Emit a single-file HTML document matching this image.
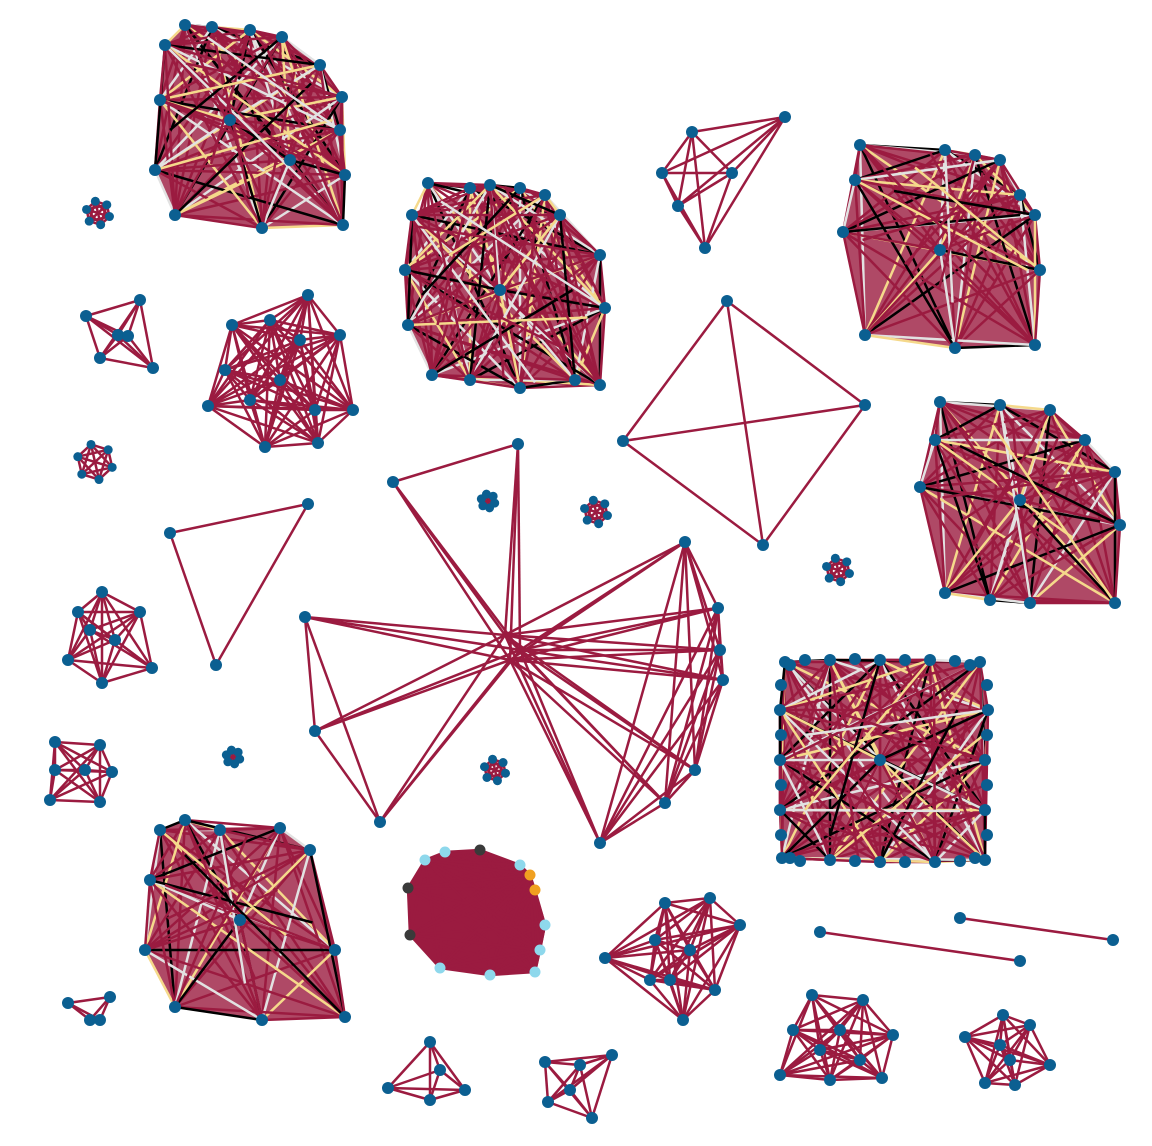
<!DOCTYPE html>
<html><head><meta charset="utf-8"><title>Network graph</title>
<style>html,body{margin:0;padding:0;background:#fff;}svg{display:block;}</style></head>
<body>
<svg id="chart" width="1152" height="1146" viewBox="0 0 1152 1146" xmlns="http://www.w3.org/2000/svg">
<g id="edges"></g>
<g id="nodes"></g>
</svg>
<script>
// Cluster node positions
const denseClusters = [
 [[185,25],[212,27],[250,30],[282,37],[320,65],[342,97],[340,130],[345,175],[343,225],[262,228],[175,215],[155,170],[160,100],[165,45],[230,120],[290,160]],
 [[428,183],[470,188],[520,188],[545,195],[600,255],[605,308],[600,385],[575,380],[520,388],[470,380],[432,375],[408,325],[405,270],[412,215],[490,185],[560,215],[500,290]],
 [[860,145],[945,150],[975,155],[1000,160],[1020,195],[1035,215],[1040,270],[1035,345],[955,348],[865,335],[843,232],[855,180],[940,250]],
 [[940,402],[1000,405],[1050,410],[1085,440],[1115,472],[1120,525],[1115,603],[1030,603],[990,600],[945,593],[920,487],[935,440],[1020,500]],
 [[785,662],[830,660],[880,660],[930,660],[980,662],[988,710],[985,760],[985,810],[985,860],[935,862],[880,862],[830,860],[782,858],[780,810],[780,760],[780,710],[880,760]],
 [[160,830],[185,820],[220,830],[280,828],[310,850],[335,950],[345,1017],[262,1020],[175,1007],[145,950],[150,880],[240,920]]
];
const squareRing = [[805,660],[855,659],[905,660],[955,661],[800,861],[855,861],[905,862],[960,861],[781,685],[781,735],[781,785],[781,835],[987,685],[987,735],[987,785],[987,835],[970,665],[790,665],[975,858],[790,858]];
const mediumClusters = [
 [[692,132],[785,117],[662,173],[732,173],[678,206],[705,248]],
 [[86,316],[140,300],[153,368],[100,358],[118,335],[128,336]],
 [[232,325],[270,320],[308,295],[340,335],[353,410],[318,443],[265,447],[208,406],[225,370],[300,340],[280,380],[250,400],[315,410]],
 [[727,301],[865,405],[763,545],[623,441]],
 [[170,533],[308,504],[216,665]],
 [[78,612],[102,592],[140,612],[152,668],[102,683],[68,660],[115,640],[90,630]],
 [[55,742],[100,745],[112,772],[100,802],[50,800],[55,770],[85,770]],
 [[605,958],[665,903],[710,898],[740,925],[715,990],[683,1020],[655,940],[690,950],[670,980],[650,980]],
 [[820,932],[1020,961]],
 [[960,918],[1113,940]],
 [[68,1003],[110,997],[100,1020],[90,1020]],
 [[430,1042],[388,1088],[430,1100],[465,1090],[440,1070]],
 [[545,1062],[612,1055],[592,1118],[548,1102],[580,1065],[570,1090]],
 [[812,995],[863,1000],[893,1035],[882,1078],[830,1080],[780,1075],[793,1030],[840,1030],[820,1050],[860,1060]],
 [[965,1037],[1003,1015],[1030,1025],[1050,1065],[1015,1085],[985,1083],[1000,1045],[1010,1060]]
];
const tinyCenters = [[98,213],[95,462],[488,501],[596,512],[838,570],[233,757],[495,770]];
const tinyRadii = [12,18,7,12,12,7,11];
const starHubs = [[505,635],[520,650],[510,660]];
const starOuter = [[393,482],[518,444],[685,542],[718,608],[723,680],[695,770],[665,803],[600,843],[380,822],[315,731],[305,617],[720,650]];
const blobNodes = [[445,852],[480,850],[520,865],[535,890],[545,925],[535,972],[490,975],[440,968],[410,935],[408,888],[425,860],[540,950],[530,875]];
const blobColors = ['#8ed8ec','#3a3a3a','#8ed8ec','#f0a020','#8ed8ec','#8ed8ec','#8ed8ec','#8ed8ec','#3a3a3a','#3a3a3a','#8ed8ec','#8ed8ec','#f0a020'];

const NS='http://www.w3.org/2000/svg';
const E=document.getElementById('edges'), N=document.getElementById('nodes');
const CRIM='#9b1b40';
const pal=[CRIM,CRIM,CRIM,'#000','#f5d98b',CRIM,'#e2e2e2'];
function line(a,b,c,w){const l=document.createElementNS(NS,'line');
l.setAttribute('x1',a[0]);l.setAttribute('y1',a[1]);l.setAttribute('x2',b[0]);l.setAttribute('y2',b[1]);
l.setAttribute('stroke',c);l.setAttribute('stroke-width',w||2.5);


E.appendChild(l);}
function node(p,c,r){const k=document.createElementNS(NS,'circle');
k.setAttribute('cx',p[0]);k.setAttribute('cy',p[1]);k.setAttribute('r',r||6);k.setAttribute('fill',c||'#0b5f91');


N.appendChild(k);}
function poly(pts,c){const p=document.createElementNS(NS,'polygon');
p.setAttribute('points',pts.map(q=>q.join(',')).join(' '));p.setAttribute('fill',c);


E.appendChild(p);}
function complete(ns,colored){for(let i=0;i<ns.length;i++)for(let j=i+1;j<ns.length;j++)
 line(ns[i],ns[j],colored?pal[(i*5+j*3)%pal.length]:CRIM);}

denseClusters.forEach(ns=>{
 const hull=ns.slice(0,ns.length-(ns.length>13?2:1));
 poly(hull,'rgba(155,27,64,0.8)');
 complete(ns,true);
 for(let i=0;i<hull.length;i++){const a=hull[i],b=hull[(i+3)%hull.length];
  const m=[(a[0]+b[0])/2,(a[1]+b[1])/2];line(m,hull[(i+7)%hull.length],pal[i%pal.length]);}
 ns.forEach(p=>node(p));
});
squareRing.forEach(p=>node(p));
mediumClusters.forEach(ns=>{complete(ns,false);ns.forEach(p=>node(p));});
tinyCenters.forEach((c,k)=>{const r=tinyRadii[k];const ps=[];
 for(let i=0;i<6;i++){const a=i*Math.PI/3+0.3;ps.push([c[0]+r*Math.cos(a),c[1]+r*Math.sin(a)]);}
 complete(ps,false);ps.forEach(p=>node(p,null,4.5));});
starOuter.forEach(o=>starHubs.forEach(h=>line(o,h,CRIM)));
const arc=starOuter.slice(2,8).concat([starOuter[11]]);complete(arc,false);
line(starOuter[0],starOuter[1],CRIM);line(starOuter[10],starOuter[9],CRIM);
line(starOuter[9],starOuter[8],CRIM);line(starOuter[10],starOuter[8],CRIM);
starOuter.forEach(p=>node(p));
poly(blobNodes.slice(0,11),CRIM);complete(blobNodes,false);
blobNodes.forEach((p,i)=>node(p,blobColors[i],5.5));
</script>
</body></html>
